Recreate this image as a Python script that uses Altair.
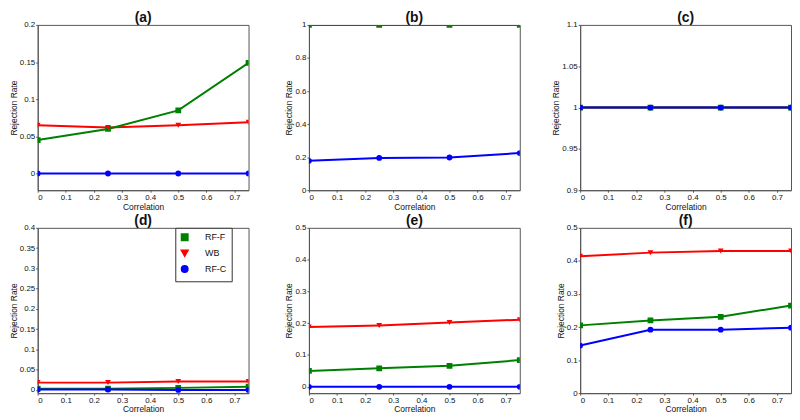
import altair as alt
import pandas as pd

corr = [0, 0.25, 0.5, 0.75]
series_names = ["RF-F", "WB", "RF-C"]
series_colors = ["#008000", "#ff0000", "#0000ff"]
series_shapes = ["square", "triangle-down", "circle"]

# panel values
a_rff = [0.045, 0.060, 0.085, 0.149]
a_wb = [0.065, 0.062, 0.065, 0.069]
a_rfc = [0.0, 0.0, 0.0, 0.0]

b_rff = [1.0, 1.0, 1.0, 1.0]
b_wb = [1.0, 1.0, 1.0, 1.0]
b_rfc = [0.178, 0.195, 0.198, 0.225]

c_rff = [1.0, 1.0, 1.0, 1.0]
c_wb = [1.0, 1.0, 1.0, 1.0]
c_rfc = [1.0, 1.0, 1.0, 1.0]

d_rff = [0.003, 0.003, 0.005, 0.008]
d_wb = [0.018, 0.018, 0.021, 0.021]
d_rfc = [0.001, 0.001, 0.0, 0.0]

e_rff = [0.050, 0.058, 0.066, 0.084]
e_wb = [0.188, 0.193, 0.202, 0.211]
e_rfc = [0.0, 0.0, 0.0, 0.0]

f_rff = [0.205, 0.220, 0.231, 0.265]
f_wb = [0.414, 0.425, 0.430, 0.430]
f_rfc = [0.144, 0.192, 0.192, 0.198]

x_ticks = [0, 0.1, 0.2, 0.3, 0.4, 0.5, 0.6, 0.7]
a_yticks = [0, 0.05, 0.1, 0.15, 0.2]
b_yticks = [0, 0.2, 0.4, 0.6, 0.8, 1]
c_yticks = [0.9, 0.95, 1, 1.05, 1.1]
d_yticks = [0, 0.05, 0.1, 0.15, 0.2, 0.25, 0.3, 0.35, 0.4]
e_yticks = [0, 0.1, 0.2, 0.3, 0.4, 0.5]
f_yticks = [0, 0.1, 0.2, 0.3, 0.4, 0.5]

W, H = 213, 167
FONT = "Liberation Sans"


def panel(label, rff, wb, rfc, ydom, yticks, show_legend=False):
    rows = []
    for name, vals in zip(series_names, [rff, wb, rfc]):
        for x, v in zip(corr, vals):
            rows.append({"Correlation": x, "Rate": v, "series": name})
    df = pd.DataFrame(rows)

    if show_legend:
        legend = alt.Legend(
            title=None, orient="none", legendX=139, legendY=0,
            fillColor="white", strokeColor="#333", padding=5,
            labelFont=FONT, labelFontSize=9, labelColor="#111", symbolSize=36,
            symbolStrokeWidth=2, rowPadding=1, labelLimit=60, labelOffset=16,
        )
    else:
        legend = None

    color = alt.Color("series:N", scale=alt.Scale(domain=series_names, range=series_colors), legend=legend)
    shape = alt.Shape("series:N", scale=alt.Scale(domain=series_names, range=series_shapes), legend=legend)
    x = alt.X("Correlation:Q", scale=alt.Scale(domain=[0, 0.75], nice=False),
              axis=alt.Axis(values=x_ticks, format="~g", title="Correlation"))
    y = alt.Y("Rate:Q", scale=alt.Scale(domain=ydom, nice=False, zero=False),
              axis=alt.Axis(values=yticks, format="~g", title="Rejection Rate"))

    layers = []
    for name in ["WB", "RF-F", "RF-C"]:
        layers.append(
            alt.Chart(df).transform_filter(alt.datum.series == name)
            .mark_line(strokeWidth=2, clip=True)
            .encode(x=x, y=y, color=color)
        )
    for name in series_names:
        layers.append(
            alt.Chart(df).transform_filter(alt.datum.series == name)
            .mark_point(filled=True, size=34, opacity=1, clip=True)
            .encode(x=x, y=y, color=color, shape=shape)
        )
    return alt.layer(*layers).properties(
        width=W, height=H,
        title=alt.TitleParams(label, fontSize=14, fontWeight="bold", font=FONT,
                              anchor="middle", offset=-4, color="#111"),
    ).resolve_legend(color="shared", shape="shared")


pa = panel("(a)", a_rff, a_wb, a_rfc, [-0.0225, 0.2], a_yticks)
pb = panel("(b)", b_rff, b_wb, b_rfc, [0, 1], b_yticks)
pc = panel("(c)", c_rff, c_wb, c_rfc, [0.9, 1.1], c_yticks)
pd_ = panel("(d)", d_rff, d_wb, d_rfc, [-0.008, 0.4], d_yticks, show_legend=True)
pe = panel("(e)", e_rff, e_wb, e_rfc, [-0.02, 0.5], e_yticks)
pf = panel("(f)", f_rff, f_wb, f_rfc, [0, 0.5], f_yticks)

chart = alt.concat(
    pa, pb, pc, pd_, pe, pf, columns=3,
    spacing={"row": 38, "column": 61}, bounds="flush",
).resolve_legend(
    color="independent", shape="independent"
).properties(
    background="white", padding=0,
).configure_view(stroke="#555", strokeWidth=1).configure_axis(
    domainColor="#555", tickColor="#555", tickSize=2,
    labelFont=FONT, labelFontSize=8, labelColor="#111", labelPadding=1,
    titleFont=FONT, titleFontSize=8.5, titleFontWeight="normal", titleColor="#111", titlePadding=1,
    grid=False,
)

chart.save("out.html", embed_options={"renderer": "svg", "actions": False})
